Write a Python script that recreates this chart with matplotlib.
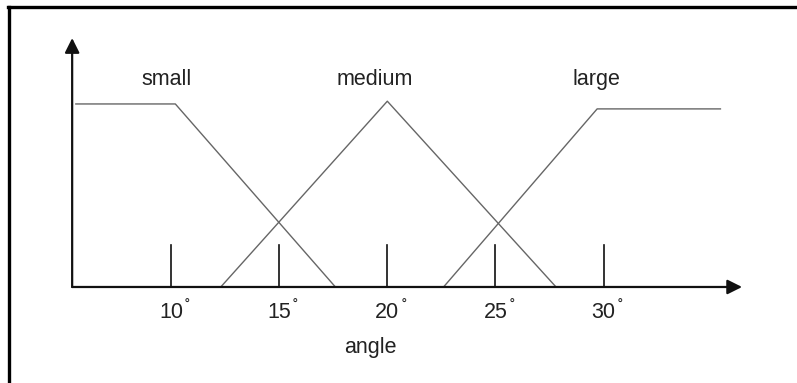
import matplotlib
matplotlib.use("Agg")
import matplotlib.pyplot as plt
from matplotlib.lines import Line2D

plt.rcParams['font.family'] = ['Liberation Sans', 'DejaVu Sans']

# membership functions (angle in degrees, membership value)
small_x = [5.6, 10.2, 17.6]
small_y = [1.0, 1.0, 0.0]
medium_x = [12.3, 20.0, 27.8]
medium_y = [0.0, 1.015, 0.0]
large_x = [22.6, 29.7, 35.4]
large_y = [0.0, 0.973, 0.973]

set_names = ["small", "medium", "large"]
name_pos = [9.8, 19.4, 29.65]
ticks = [10, 15, 20, 25, 30]

fig = plt.figure(figsize=(7.97, 3.83), dpi=100)
ax = fig.add_axes([0, 0, 1, 1])
ax.set_xlim(2.094, 38.94)
ax.set_ylim(-0.5246, 1.568)
ax.axis('off')

# frame: top and left only
fig.add_artist(Line2D([0.0105, 1.0], [0.981, 0.981], transform=fig.transFigure, color='black', lw=2.4))
fig.add_artist(Line2D([0.0115, 0.0115], [0.0, 0.981], transform=fig.transFigure, color='black', lw=2.4))

# axes with arrows
x0 = 5.43
arrow = dict(arrowstyle='-|>', mutation_scale=22, lw=1.6, color='#111111', shrinkA=0, shrinkB=0)
ax.annotate('', xy=(36.4, 0), xytext=(x0, 0), arrowprops=arrow)
ax.annotate('', xy=(x0, 1.36), xytext=(x0, 0), arrowprops=arrow)

# tick marks and labels
for t in ticks:
    ax.plot([t, t], [0, 0.23], color='#111111', lw=1.2)
    ax.text(t, -0.137, str(t), ha='center', va='center', fontsize=15.5, color='#222222')
    ax.annotate('\u02da', xy=(t, -0.137), xytext=(12, 3), textcoords='offset points',
                ha='center', va='center', fontsize=12, color='#222222')

ax.text(19.2, -0.328, "angle", ha='center', va='center', fontsize=15.5, color='#222222')

# membership curves
for xs, ys in [(small_x, small_y), (medium_x, medium_y), (large_x, large_y)]:
    ax.plot(xs, ys, color='#666666', lw=1.0)

for name, p in zip(set_names, name_pos):
    ax.text(p, 1.131, name, ha='center', va='center', fontsize=15.5, color='#222222')

fig.savefig("out.png", dpi=100)
